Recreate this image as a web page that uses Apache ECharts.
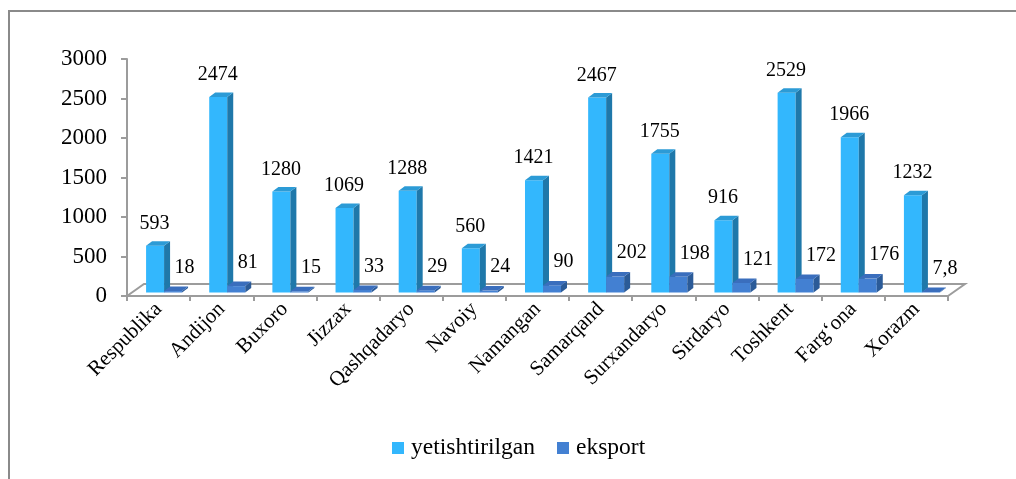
<!DOCTYPE html>
<html>
<head>
<meta charset="utf-8">
<script src="https://cdn.jsdelivr.net/npm/echarts@6/dist/echarts.min.js"></script>
<style>
  html, body { margin: 0; padding: 0; background: #ffffff; }
  #chart { width: 1016px; height: 479px; }
</style>
</head>
<body>
<div id="chart"></div>
<script>
// Regions and values (produced vs exported)
const categories = ['Respublika', 'Andijon', 'Buxoro', 'Jizzax', 'Qashqadaryo', 'Navoiy',
  'Namangan', 'Samarqand', 'Surxandaryo', 'Sirdaryo', 'Toshkent', 'Farg\u2018ona', 'Xorazm'];
const produced = [593, 2474, 1280, 1069, 1288, 560, 1421, 2467, 1755, 916, 2529, 1966, 1232];
const exported = [18, 81, 15, 33, 29, 24, 90, 202, 198, 121, 172, 176, 7.8];
const seriesNames = ['yetishtirilgan', 'eksport'];
const yMin = 0, yMax = 3000, yStep = 500;

const FONT = 'Liberation Serif';
const AXIS_GRAY = '#9c9c9c';

// face colours: front, side, top
const palette = [
  { front: '#33b7fd', side: '#1f78aa', top: '#2c9bd6' },
  { front: '#4380d2', side: '#2b5b98', top: '#3a6ebd' }
];

const DEPTH_X = 6, DEPTH_Y = 4.5, LIFT = 3.5;

function fmt(v) { return String(v).replace('.', ','); }

function barRenderer(sIdx) {
  return function (params, api) {
    const i = api.value(0), v = api.value(1);
    const band = api.size([1, 0])[0];
    const w = band * 0.285;
    const base = api.coord([i, 0]);
    const peak = api.coord([i, v]);
    const x0 = base[0] - band * 0.198 + sIdx * w;
    const yb = base[1] - LIFT;
    const yt = peak[1] - LIFT;
    const c = palette[sIdx];
    const children = [
      { type: 'rect', shape: { x: x0, y: yt, width: w, height: yb - yt },
        style: { fill: c.front } },
      { type: 'polygon', shape: { points: [[x0 + w, yt], [x0 + w + DEPTH_X, yt - DEPTH_Y],
          [x0 + w + DEPTH_X, yb - DEPTH_Y], [x0 + w, yb]] }, style: { fill: c.side } },
      { type: 'polygon', shape: { points: [[x0, yt], [x0 + DEPTH_X, yt - DEPTH_Y],
          [x0 + w + DEPTH_X, yt - DEPTH_Y], [x0 + w, yt]] }, style: { fill: c.top } }
    ];
    if (sIdx === 0) {
      children.push({ type: 'text', style: { text: fmt(v), x: x0 + w / 2 - 0.5, y: yt - 22,
        align: 'center', verticalAlign: 'middle', fontFamily: FONT, fontSize: 20, fill: '#000' } });
    } else {
      children.push({ type: 'text', style: { text: fmt(v), x: x0 + 10.5, y: yt - 23.5,
        align: 'left', verticalAlign: 'middle', fontFamily: FONT, fontSize: 20, fill: '#000' } });
    }
    return { type: 'group', children: children };
  };
}

function floorRenderer(params, api) {
  const band = api.size([1, 0])[0];
  const a = api.coord([0, 0]);
  const b = api.coord([categories.length - 1, 0]);
  const xl = a[0] - band / 2, xr = b[0] + band / 2, y = a[1];
  const dx = 17, dy = 12;
  return {
    type: 'polyline',
    shape: { points: [[xl, y], [xl + dx, y - dy], [xr + dx, y - dy], [xr, y]] },
    style: { stroke: AXIS_GRAY, lineWidth: 2, fill: null }
  };
}

const legendText = { fontFamily: FONT, fontSize: 23.5, color: '#000', padding: [0, 0, 0, 2] };

const chart = echarts.init(document.getElementById('chart'), null, { renderer: 'canvas' });

chart.setOption({
  backgroundColor: '#ffffff',
  animation: false,
  textStyle: { fontFamily: FONT },
  graphic: [{
    type: 'rect', z: 100, silent: true,
    shape: { x: 9, y: 11, width: 1020, height: 480 },
    style: { fill: null, stroke: '#8a8a8a', lineWidth: 2 }
  }],
  grid: { left: 127, right: 68, top: 59, bottom: 183 },
  legend: {
    left: 392, top: 436, padding: 0,
    itemWidth: 12, itemHeight: 12, itemGap: 22,
    icon: 'rect',
    textStyle: legendText,
    data: [
      { name: seriesNames[0], itemStyle: { color: palette[0].front }, textStyle: legendText },
      { name: seriesNames[1], itemStyle: { color: palette[1].front }, textStyle: legendText }
    ]
  },
  xAxis: {
    type: 'category',
    data: categories,
    boundaryGap: true,
    axisLine: { show: true, lineStyle: { color: AXIS_GRAY, width: 2 } },
    axisTick: { show: true, alignWithLabel: false, length: 5, lineStyle: { color: AXIS_GRAY, width: 2 } },
    axisLabel: { rotate: 45, interval: 0, margin: 10, fontFamily: FONT, fontSize: 21, color: '#000' },
    splitLine: { show: false }
  },
  yAxis: {
    type: 'value',
    min: yMin, max: yMax, interval: yStep,
    axisLine: { show: true, lineStyle: { color: AXIS_GRAY, width: 2 } },
    axisTick: { show: true, length: 6, lineStyle: { color: AXIS_GRAY, width: 2 } },
    axisLabel: { margin: 20, fontFamily: FONT, fontSize: 23, color: '#000',
      formatter: function (v) { return String(v); } },
    splitLine: { show: false }
  },
  series: [
    { type: 'custom', name: 'floor', silent: true, renderItem: floorRenderer, data: [[0, 0]], z: 1 },
    { type: 'custom', name: seriesNames[0], renderItem: barRenderer(0), z: 2,
      itemStyle: { color: palette[0].front },
      data: produced.map((v, i) => [i, v]) },
    { type: 'custom', name: seriesNames[1], renderItem: barRenderer(1), z: 3,
      itemStyle: { color: palette[1].front },
      data: exported.map((v, i) => [i, v]) }
  ]
});
</script>
</body>
</html>
